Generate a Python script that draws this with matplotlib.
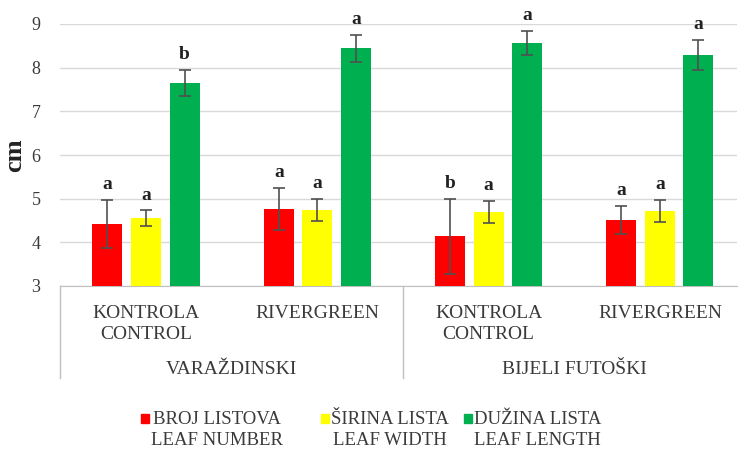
import matplotlib
matplotlib.use("Agg")
import matplotlib.pyplot as plt
from matplotlib.patches import Rectangle
import matplotlib.transforms as mtransforms
import numpy as np

plt.rcParams['font.family'] = ['Liberation Serif', 'DejaVu Serif']

categories = ["KONTROLA\nCONTROL", "RIVERGREEN", "KONTROLA\nCONTROL", "RIVERGREEN"]
groups = ["VARAŽDINSKI", "BIJELI FUTOŠKI"]
series_names = ["BROJ LISTOVA\nLEAF NUMBER", "ŠIRINA LISTA\nLEAF WIDTH", "DUŽINA LISTA\nLEAF LENGTH"]
leaf_number = [4.42, 4.76, 4.14, 4.51]
leaf_number_err = [0.55, 0.48, 0.86, 0.33]
leaf_width = [4.55, 4.75, 4.69, 4.72]
leaf_width_err = [0.18, 0.25, 0.25, 0.25]
leaf_length = [7.65, 8.44, 8.56, 8.29]
leaf_length_err = [0.30, 0.30, 0.28, 0.34]
letters_number = ["a", "a", "b", "a"]
letters_width = ["a", "a", "a", "a"]
letters_length = ["b", "a", "a", "a"]

colors = ["#FF0000", "#FFFF00", "#00B050"]
txt = '#3a3a3a'

W, H = 739, 450
fig = plt.figure(figsize=(W/100, H/100), dpi=100)
ax_left, ax_right, ax_top, ax_bot = 60, 737, 24, 286
ax = fig.add_axes([ax_left/W, 1-ax_bot/H, (ax_right-ax_left)/W, (ax_bot-ax_top)/H])

x = np.arange(len(categories))
bw = 0.175
step = 0.225
series = [(leaf_number, leaf_number_err, letters_number),
          (leaf_width, leaf_width_err, letters_width),
          (leaf_length, leaf_length_err, letters_length)]
for i, (vals, errs, lets) in enumerate(series):
    xs = x + (i-1)*step
    ax.bar(xs, vals, width=bw, color=colors[i], zorder=3)
    ax.errorbar(xs, vals, yerr=errs, fmt='none', ecolor='#505050', elinewidth=1.2,
                capsize=4, capthick=1.2, zorder=4)
    for xi, v, e, l in zip(xs, vals, errs, lets):
        ax.annotate(l, (xi, v+e), xytext=(0, 5), textcoords='offset points',
                    ha='center', va='bottom', fontsize=14, fontweight='bold', color='#222222')

ax.set_ylim(3, 9)
ax.set_xlim(-0.502, 3.45)
ax.set_yticks(range(3, 10))
ax.yaxis.grid(True, color='#d9d9d9', linewidth=1, zorder=0)
ax.set_axisbelow(True)
for s in ['left', 'right', 'top']:
    ax.spines[s].set_visible(False)
ax.spines['bottom'].set_color('#bfbfbf')
ax.tick_params(axis='y', length=0, pad=14, labelsize=13, labelcolor=txt)
ax.set_xticks(x)
ax.set_xticklabels(categories, fontsize=14, linespacing=1.3, color=txt)
ax.tick_params(axis='x', length=0, pad=14)
ax.set_ylabel("cm", fontsize=19, fontweight='bold', labelpad=4, color='#222222')

trans = mtransforms.blended_transform_factory(ax.transData, ax.transAxes)
ybot = (ax_bot - 378) / (ax_bot - ax_top)
for sx in [-0.502, 1.5]:
    ax.plot([sx, sx], [0, ybot], transform=trans, color='#bfbfbf', lw=1, clip_on=False)
ygrp = (ax_bot - 369) / (ax_bot - ax_top)
for gx, g in zip([0.5, 2.5], groups):
    ax.text(gx, ygrp, g, transform=trans, ha='center', va='center', fontsize=14, color=txt)

# legend
sq_x = [141, 321, 464]
for c, name, sx in zip(colors, series_names, sq_x):
    fig.text((sx+10)/W, 1-430/H, name, ha='left', va='center', fontsize=13.5,
             linespacing=1.3, multialignment='center', color=txt)
    fig.patches.append(Rectangle((sx/W, 1-423/H), 8/W, 9/H, transform=fig.transFigure,
                                 color=c, figure=fig))

fig.savefig("out.png", dpi=100)
